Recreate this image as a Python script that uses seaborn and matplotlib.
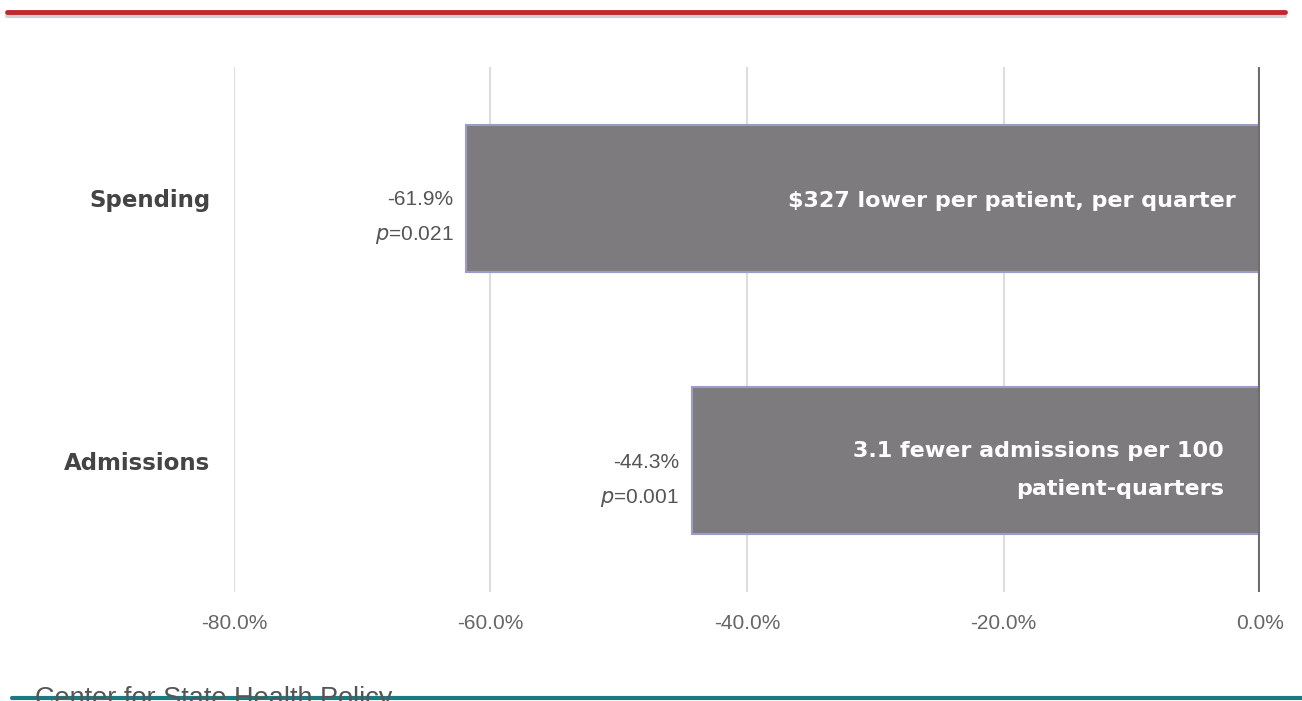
import pandas as pd
import numpy as np
import seaborn as sns
import matplotlib.pyplot as plt
from matplotlib.ticker import FuncFormatter

# data
categories = ['Spending', 'Admissions']
pct_change = [-61.9, -44.3]
p_values = ['0.021', '0.001']
bar_notes = ['$327 lower per patient, per quarter',
             '3.1 fewer admissions per 100\npatient-quarters']
x_ticks = [-80, -60, -40, -20, 0]

df = pd.DataFrame({'measure': categories, 'change': pct_change})

sns.set_style('white')
plt.rcParams['font.family'] = ['Liberation Sans', 'DejaVu Sans']

fig = plt.figure(figsize=(13.02, 7.01), dpi=100)
W, H = 1302, 701
ax = fig.add_axes([234 / W, (H - 592) / H, (1260 - 234) / W, (592 - 67) / H])

ax = sns.barplot(data=df, y='measure', x='change', orient='h', ax=ax,
                 color='#7e7b7f', saturation=1, width=0.56,
                 edgecolor='#9c9cc8', linewidth=1.5, zorder=2)

ax.set_xlim(-80, 0)
ax.set_ylim(1.5, -0.5)
ax.set_xticks(x_ticks)
ax.xaxis.set_major_formatter(FuncFormatter(lambda v, _: f'{v:.1f}%'))
ax.tick_params(axis='x', length=0, pad=16, labelsize=15, labelcolor='#666666')
ax.tick_params(axis='y', length=0, pad=17)
for lab in ax.get_yticklabels():
    lab.set_family('DejaVu Sans')
    lab.set_fontweight('bold')
    lab.set_fontsize(16.5)
    lab.set_color('#444444')
ax.set_xlabel('')
ax.set_ylabel('')
for s in ax.spines.values():
    s.set_visible(False)

ax.grid(axis='x', color='#dddddd', linewidth=1.5, zorder=0)
ax.axvline(0, color='#6e6e6e', linewidth=3, zorder=3)

# annotations: percentage + p-value left of bar end, note inside bar
for i, (v, p, note) in enumerate(zip(pct_change, p_values, bar_notes)):
    ax.text(v - 1.0, i + 0.005, f'{v:.1f}%', ha='right', va='center',
            fontsize=15, color='#555555')
    ax.text(v - 1.0, i + 0.14, f'$p$=' + p, ha='right', va='center',
            fontsize=15, color='#555555')
    ax.text(-1.9 if i == 0 else -2.8, i + (0.01 if i == 0 else 0.035), note,
            ha='right', va='center', fontsize=16, fontweight='bold',
            color='white', family='DejaVu Sans', linespacing=2.1, zorder=4)

# header rule and footer
fig.add_artist(plt.Line2D([7 / W, 1285 / W], [1 - 16 / H, 1 - 16 / H],
                          color='#d0d0d6', linewidth=3))
fig.add_artist(plt.Line2D([7 / W, 1285 / W], [1 - 12 / H, 1 - 12 / H],
                          color='#c0282d', linewidth=3.5))
fig.text(35 / W, 1 - 706 / H, 'Center for State Health Policy',
         fontsize=19.5, color='#555555', ha='left', va='baseline')
fig.add_artist(plt.Line2D([12 / W, 1.0], [1 - 698 / H, 1 - 698 / H],
                          color='#1a7a80', linewidth=3))

fig.savefig('out.png', dpi=100)
